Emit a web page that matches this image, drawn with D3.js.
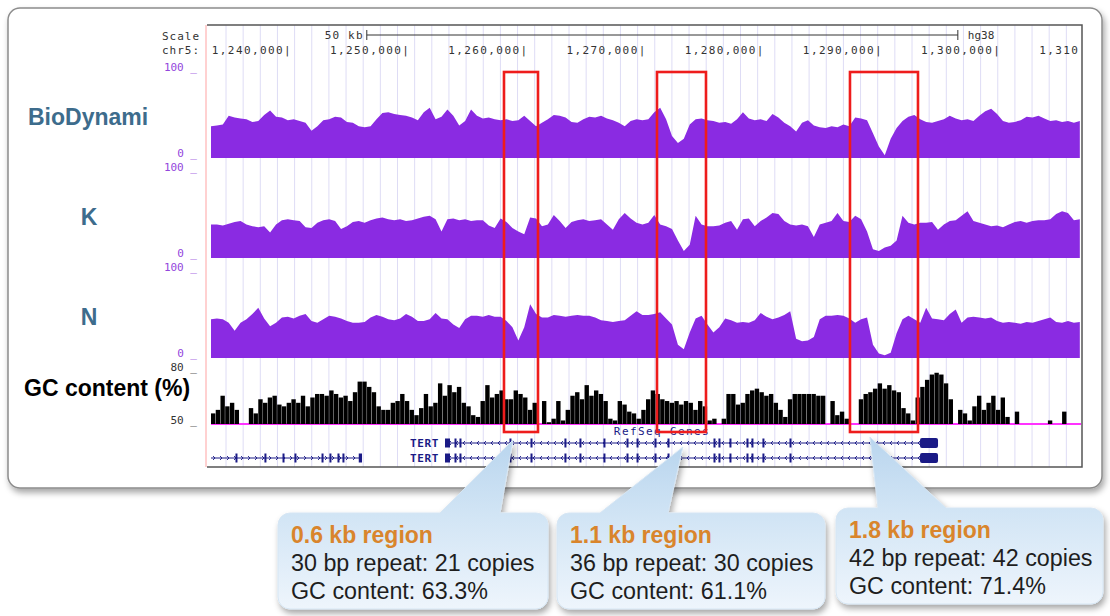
<!DOCTYPE html>
<html>
<head>
<meta charset="utf-8">
<script src="https://cdn.jsdelivr.net/npm/d3@7"></script>
<style>
  html, body { margin: 0; padding: 0; background: #fff; }
  svg { display: block; }
</style>
</head>
<body>
<div id="chart"></div>
<script>
const width = 1110, height = 616;

// chr5 window shown (hg38)
const viewStart = 1233500, viewEnd = 1307100;
const chrTicks = [1240000, 1250000, 1260000, 1270000, 1280000, 1290000, 1300000, 1310000];
const chrTickLabels = ["1,240,000", "1,250,000", "1,260,000", "1,270,000", "1,280,000", "1,290,000", "1,300,000", "1,310,000"];
const scaleBarStart = 1246680, scaleBarLength = 50000;

// signal tracks, one value per 500 bp bin
const sigStart = 1233500, sigStep = 500;
const bioDynami = [
  36,37,38,48,46,45,44,41,42,49, 54,47,46,43,44,42,40,31,36,43,
  44,47,46,41,40,36,35,36,44,51, 52,50,49,48,46,43,52,57,44,47,
  55,48,37,42,55,48,45,46,44,43, 44,42,43,48,42,36,40,44,49,48,
  46,41,40,44,47,46,48,45,43,40, 36,42,44,43,44,52,57,44,25,17,
  22,38,44,45,43,42,40,41,39,44, 52,45,43,44,42,50,46,40,36,30,
  40,43,37,35,34,36,35,38,36,46, 45,43,28,13,3,22,34,42,47,49,
  44,41,40,42,44,48,45,43,44,42, 48,53,56,50,42,40,41,43,47,46,
  48,45,42,43,41,42,40,42
];
const kSignal = [
  38,38,37,39,41,42,38,36,35,36, 29,38,43,44,43,42,35,34,40,43,
  44,42,33,36,41,42,40,43,45,46, 44,43,44,42,43,45,47,48,44,30,
  44,45,43,44,42,43,43,37,34,45, 41,34,30,27,46,45,36,38,49,42,
  34,41,43,44,42,43,44,38,32,44, 51,45,40,38,40,49,38,36,33,20,
  8,15,48,38,36,36,37,40,42,32, 44,45,36,42,46,51,50,42,38,37,
  38,36,24,38,40,42,51,42,41,48, 44,30,10,8,12,14,20,48,40,38,
  40,40,41,32,38,42,43,48,53,42, 40,38,36,37,35,38,41,42,40,42,
  43,43,44,50,53,51,43,44
];
const nSignal = [
  44,45,44,40,31,40,44,50,57,45, 36,40,46,47,45,48,50,42,40,44,
  48,47,45,42,40,40,41,46,49,47, 44,43,45,50,47,42,42,44,51,45,
  44,38,34,44,48,48,47,49,47,47, 42,35,20,35,61,50,46,46,49,48,
  47,48,49,48,48,46,43,42,41,42, 43,48,53,49,49,50,52,45,38,15,
  10,29,45,48,38,29,35,45,43,40, 41,40,43,51,47,44,46,49,53,22,
  19,20,24,44,48,48,49,48,45,40, 44,46,15,5,3,6,28,44,48,44,
  40,57,45,44,43,50,55,40,46,47, 46,45,46,42,40,41,40,39,41,40,
  42,44,46,41,40,42,40,41
];
const trackNames = ["BioDynami", "K", "N"];

// GC content (%), one value per 400 bp bin
const gcStart = 1233500, gcStep = 400;
const gcContent = [
  56,58,66,60,62,58,50,50,59,56, 64,62,65,66,61,60,62,64,62,66,
  60,65,67,67,66,69,67,65,66,63, 68,74,74,71,68,60,58,58,62,63,
  67,63,58,55,59,67,60,62,73,66, 72,68,71,62,60,55,54,63,72,65,
  67,69,64,64,69,67,65,58,62,50, 63,51,53,63,52,58,66,68,64,72,
  66,69,67,63,53,52,63,61,57,56, 53,58,64,69,67,64,63,62,63,61,
  63,62,58,63,60,52,53,50,53,67, 67,61,62,67,69,70,68,66,67,62,
  58,54,64,67,67,67,67,67,66,66, 50,63,55,57,53,50,50,64,67,68,
  70,73,70,72,69,68,59,56,52,65, 71,75,78,79,78,73,64,50,58,56,
  52,60,66,58,62,66,58,65,54,50, 57,50,50,50,50,50,50,52,50,50,
  57,50,50,50
];

// RefSeq genes
const tertStart = 1253296, tertEnd = 1295004;
const tertExons = [[1253296,1253719],[1254100,1254190],[1254520,1254610],[1258750,1258840],
  [1260530,1260620],[1263400,1263490],[1264670,1264760],[1266700,1266790],[1268650,1268740],
  [1269500,1269590],[1271020,1271110],[1272120,1272210],[1276010,1276100],[1276430,1276520],
  [1277360,1277450],[1278800,1278890],[1279220,1279310],[1280150,1280240],[1282440,1282530],
  [1293481,1295004]];
const slcStart = 1233500, slcEnd = 1246275;
const slcExons = [[1235570,1235660],[1238020,1238110],[1239550,1239640],[1240560,1240650],
  [1242850,1242940],[1243520,1243610],[1244200,1244290],[1244620,1244710],[1246000,1246275]];

// highlighted tandem repeat regions
const regions = [[1258286, 1261163], [1271230, 1275375], [1287556, 1293309]];
const regionTitles = ["0.6 kb region", "1.1 kb region", "1.8 kb region"];
const repeatLines = ["30 bp repeat: 21 copies", "36 bp repeat: 30 copies", "42 bp repeat: 42 copies"];
const gcLines = ["GC content: 63.3%", "GC content: 61.1%", "GC content: 71.4%"];
const calloutTips = [1259050, 1273420, 1289240];

// layout
const frame = {left: 207, right: 1081, top: 25, bottom: 467};
const trackTops = [70, 170, 270], trackH = 88;
const gcTop = 371, gcBottom = 424;
const geneRows = [443, 458];
const boxes = [
  {x: 278, y: 513, w: 270, h: 96, baseL: 440, baseR: 500, tipY: 440},
  {x: 557, y: 513, w: 268, h: 96, baseL: 600, baseR: 668, tipY: 447},
  {x: 836, y: 508, w: 267, h: 96, baseL: 878, baseR: 946, tipY: 437}
];

const mono = "'DejaVu Sans Mono', monospace";
const sans = "'Liberation Sans', Arial, sans-serif";
const purple = "#8a2be2";
const navy = "#1a1a86";
const charW = 8; // mono 11px + 1.4px spacing

const svg = d3.select("#chart").append("svg")
    .attr("width", width)
    .attr("height", height);

const defs = svg.append("defs");
const sh = defs.append("filter").attr("id", "shadow")
    .attr("x", "-5%").attr("y", "-5%").attr("width", "112%").attr("height", "120%");
sh.append("feDropShadow").attr("dx", 2).attr("dy", 4).attr("stdDeviation", 3)
    .attr("flood-color", "#000").attr("flood-opacity", 0.35);
const grad = defs.append("linearGradient").attr("id", "calloutFill")
    .attr("x1", 0).attr("y1", 0).attr("x2", 0).attr("y2", 1);
grad.append("stop").attr("offset", "0%").attr("stop-color", "#b9d5ee");
grad.append("stop").attr("offset", "45%").attr("stop-color", "#d2e5f5");
grad.append("stop").attr("offset", "100%").attr("stop-color", "#eef5fc");

// outer panel
svg.append("rect")
    .attr("x", 8).attr("y", 8).attr("width", 1094).attr("height", 480)
    .attr("rx", 12)
    .attr("fill", "#fff")
    .attr("stroke", "#8c8c8c")
    .attr("stroke-width", 1.5)
    .attr("filter", "url(#shadow)");

const x = d3.scaleLinear().domain([viewStart, viewEnd]).range([211, frame.right]);

// guidelines
svg.append("g").selectAll("line")
    .data(d3.range(226, frame.right, 17.15))
    .join("line")
    .attr("x1", d => d).attr("x2", d => d)
    .attr("y1", frame.top).attr("y2", frame.bottom)
    .attr("stroke", "#dedcf5")
    .attr("stroke-width", 1);

// header: scale bar + chromosome positions
const head = svg.append("g").style("font-family", mono).style("font-size", "11px")
    .attr("fill", "#333");
head.append("text").attr("x", 162).attr("y", 40).style("letter-spacing", "1px").text("Scale");
head.append("text").attr("x", 162).attr("y", 54).style("letter-spacing", "1px").text("chr5:");
const sb0 = x(scaleBarStart), sb1 = x(scaleBarStart + scaleBarLength);
head.append("text").attr("x", sb0 - 3).attr("y", 39).attr("text-anchor", "end")
    .style("letter-spacing", "1.2px").text("50 kb");
head.append("line").attr("x1", sb0).attr("x2", sb1).attr("y1", 35).attr("y2", 35)
    .attr("stroke", "#333");
head.selectAll(".sbtick").data([sb0, sb1]).join("line")
    .attr("x1", d => d).attr("x2", d => d).attr("y1", 30).attr("y2", 40)
    .attr("stroke", "#333");
head.append("text").attr("x", sb1 + 10).attr("y", 39).text("hg38");
// labels end at their tick; the last one runs past the frame, keep only what fits
const labelX0 = (d, i) => x(d) + 4 - (chrTickLabels[i].length + 1) * charW;
head.append("g")
  .selectAll("text")
  .data(chrTicks)
  .join("text")
    .attr("x", labelX0)
    .attr("y", 54)
    .style("letter-spacing", "1.4px")
    .text((d, i) => {
      const full = chrTickLabels[i] + "|";
      const fit = Math.floor((frame.right + 6 - labelX0(d, i)) / charW);
      return fit >= full.length ? full : full.slice(0, fit);
    });

// signal tracks
trackNames.forEach((name, t) => {
  const vals = [bioDynami, kSignal, nSignal][t];
  const y = d3.scaleLinear().domain([0, 100]).range([trackTops[t] + trackH, trackTops[t]]);
  const area = d3.area()
      .x((d, i) => x(sigStart + i * sigStep))
      .y0(y(0))
      .y1(d => y(d));
  svg.append("path")
      .datum(vals)
      .attr("d", area)
      .attr("fill", purple);
  const lab = svg.append("g").style("font-family", mono).style("font-size", "11px")
      .attr("fill", "#9346dc").attr("text-anchor", "end");
  lab.append("text").attr("x", 197).attr("y", y(100) + 1).text("100 _");
  lab.append("text").attr("x", 197).attr("y", y(0) - 1).text("0 _");
  svg.append("text")
      .attr("x", t === 0 ? 28 : 89)
      .attr("y", trackTops[t] + 55)
      .attr("text-anchor", t === 0 ? "start" : "middle")
      .style("font-family", sans).style("font-size", "23px").style("font-weight", "bold")
      .attr("fill", "#3d6c8c")
      .text(name);
});

// GC content track
const yGC = d3.scaleLinear().domain([50, 80]).range([gcBottom, gcTop]);
svg.append("line")
    .attr("x1", 211).attr("x2", frame.right)
    .attr("y1", gcBottom).attr("y2", gcBottom)
    .attr("stroke", "#ff33ff").attr("stroke-width", 2);
const gcW = x(gcStart + gcStep) - x(gcStart);
svg.append("g").selectAll("rect")
    .data(gcContent)
    .join("rect")
    .attr("x", (d, i) => x(gcStart + i * gcStep))
    .attr("y", d => yGC(d))
    .attr("width", gcW - 0.35)
    .attr("height", d => yGC(50) - yGC(d))
    .attr("fill", "#000");
const gcLab = svg.append("g").style("font-family", mono).style("font-size", "11px")
    .attr("fill", "#333").attr("text-anchor", "end");
gcLab.append("text").attr("x", 197).attr("y", yGC(80)).text("80 _");
gcLab.append("text").attr("x", 197).attr("y", yGC(50)).text("50 _");
svg.append("text")
    .attr("x", 24).attr("y", 396)
    .style("font-family", sans).style("font-size", "23px").style("font-weight", "bold")
    .attr("fill", "#000")
    .text("GC content (%)");

// RefSeq genes
svg.append("text")
    .attr("x", 662).attr("y", 435).attr("text-anchor", "middle")
    .style("font-family", mono).style("font-size", "11px").style("letter-spacing", "1.4px")
    .attr("fill", navy)
    .text("RefSeq Genes");

function drawGene(g, y, start, end, exons, strand) {
  g.append("line")
      .attr("x1", x(start)).attr("x2", x(end))
      .attr("y1", y).attr("y2", y)
      .attr("stroke", navy).attr("stroke-width", 1);
  const chev = d3.range(x(start) + 4, x(end) - 3, 7);
  g.selectAll(null).data(chev).join("path")
      .attr("d", d => strand < 0
        ? `M${d + 2},${y - 2}L${d},${y}L${d + 2},${y + 2}`
        : `M${d - 2},${y - 2}L${d},${y}L${d - 2},${y + 2}`)
      .attr("fill", "none").attr("stroke", navy).attr("stroke-width", 0.9);
  g.selectAll(null).data(exons).join("rect")
      .attr("x", d => x(d[0]))
      .attr("width", d => Math.max(2, x(d[1]) - x(d[0])))
      .attr("y", d => (x(d[1]) - x(d[0]) > 8 ? y - 5 : y - 4.5))
      .attr("height", d => (x(d[1]) - x(d[0]) > 8 ? 10 : 9))
      .attr("rx", d => (x(d[1]) - x(d[0]) > 8 ? 2 : 0))
      .attr("fill", navy);
}
const genes = svg.append("g");
geneRows.forEach(y => {
  drawGene(genes, y, tertStart, tertEnd, tertExons, -1);
  genes.append("text")
      .attr("x", 439).attr("y", y + 4).attr("text-anchor", "end")
      .style("font-family", mono).style("font-size", "11px").style("font-weight", "bold")
      .style("letter-spacing", "0.6px")
      .attr("fill", navy).text("TERT");
});
drawGene(genes, geneRows[1], slcStart, slcEnd, slcExons, 1);

// frame
svg.append("line").attr("x1", frame.left - 1).attr("x2", frame.left - 1)
    .attr("y1", frame.top).attr("y2", frame.bottom)
    .attr("stroke", "#ffb3b3").attr("stroke-width", 1.2);
svg.append("path")
    .attr("d", `M${frame.left},${frame.top}H${frame.right + 1}V${frame.bottom}H${frame.left}`)
    .attr("fill", "none").attr("stroke", "#555").attr("stroke-width", 1.5);

// red region boxes
svg.append("g").selectAll("rect")
    .data(regions)
    .join("rect")
    .attr("x", d => x(d[0]))
    .attr("y", 72)
    .attr("width", d => x(d[1]) - x(d[0]))
    .attr("height", 360)
    .attr("fill", "none")
    .attr("stroke", "#ee1c1c")
    .attr("stroke-width", 2.6);

// callouts
function calloutPath(b, tipX) {
  const r = 12, p = d3.path();
  p.moveTo(b.x + r, b.y);
  p.lineTo(b.baseL, b.y);
  p.lineTo(tipX, b.tipY);
  p.lineTo(b.baseR, b.y);
  p.lineTo(b.x + b.w - r, b.y);
  p.arcTo(b.x + b.w, b.y, b.x + b.w, b.y + r, r);
  p.lineTo(b.x + b.w, b.y + b.h - r);
  p.arcTo(b.x + b.w, b.y + b.h, b.x + b.w - r, b.y + b.h, r);
  p.lineTo(b.x + r, b.y + b.h);
  p.arcTo(b.x, b.y + b.h, b.x, b.y + b.h - r, r);
  p.lineTo(b.x, b.y + r);
  p.arcTo(b.x, b.y, b.x + r, b.y, r);
  p.closePath();
  return p.toString();
}
boxes.forEach((b, i) => {
  const g = svg.append("g");
  g.append("path")
      .attr("d", calloutPath(b, x(calloutTips[i])))
      .attr("fill", "url(#calloutFill)")
      .attr("stroke", "#d6e6f4")
      .attr("stroke-width", 1)
      .attr("filter", "url(#shadow)");
  const tx = b.x + 13;
  g.append("text").attr("x", tx).attr("y", b.y + 30)
      .style("font-family", sans).style("font-size", "23px").style("font-weight", "bold")
      .attr("fill", "#d9852c").text(regionTitles[i]);
  g.append("text").attr("x", tx).attr("y", b.y + 58)
      .style("font-family", sans).style("font-size", "23.3px")
      .attr("fill", "#1e1e1e").text(repeatLines[i]);
  g.append("text").attr("x", tx).attr("y", b.y + 86)
      .style("font-family", sans).style("font-size", "23.3px")
      .attr("fill", "#1e1e1e").text(gcLines[i]);
});
</script>
</body>
</html>
